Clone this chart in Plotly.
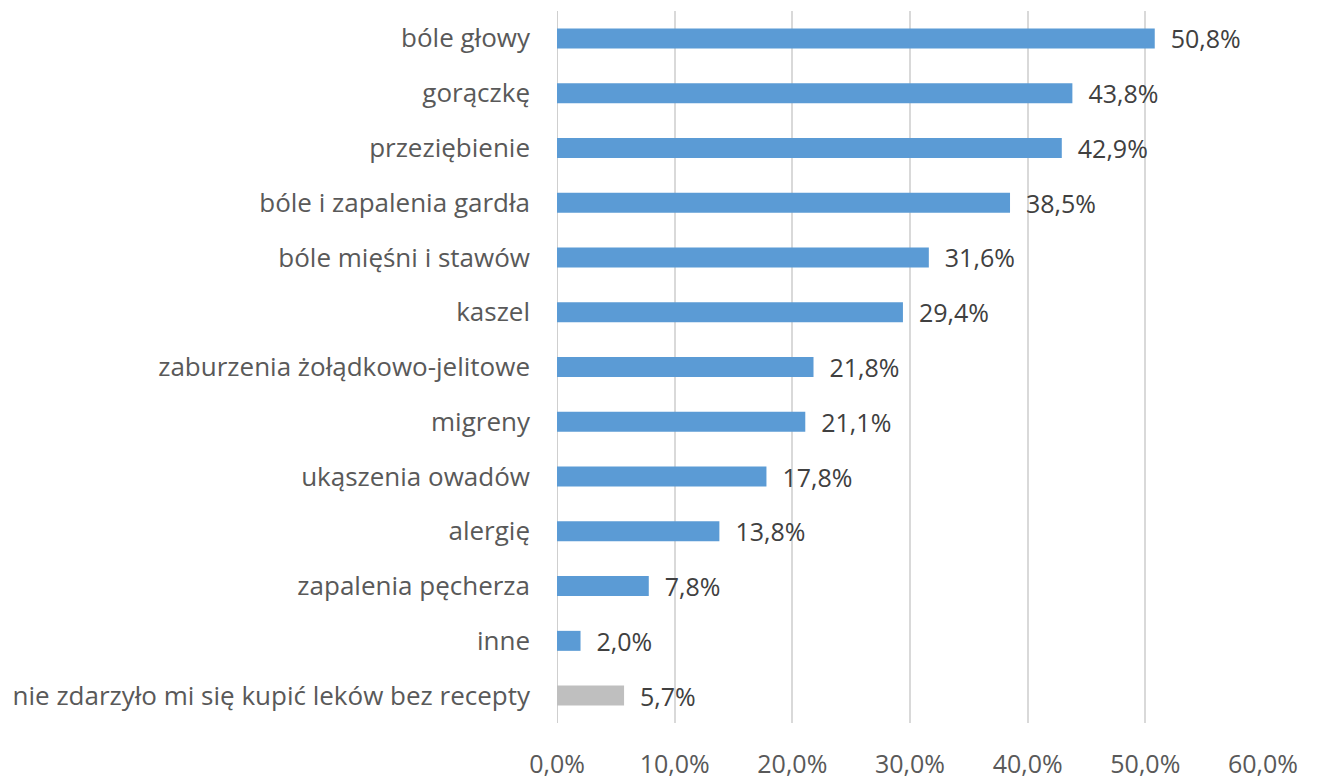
import plotly.graph_objects as go

categories = [
    "bóle głowy", "gorączkę", "przeziębienie", "bóle i zapalenia gardła",
    "bóle mięśni i stawów", "kaszel", "zaburzenia żołądkowo-jelitowe",
    "migreny", "ukąszenia owadów", "alergię", "zapalenia pęcherza", "inne",
    "nie zdarzyło mi się kupić leków bez recepty",
]
values = [50.8, 43.8, 42.9, 38.5, 31.6, 29.4, 21.8, 21.1, 17.8, 13.8, 7.8, 2.0, 5.7]
tick_values = [0, 10, 20, 30, 40, 50, 60]

BLUE = "#5B9BD5"
GRAY = "#BFBFBF"
bar_colors = [BLUE] * 12 + [GRAY]

fracs = [v / 100 for v in values]
FONT = "Open Sans"

fig = go.Figure()
fig.add_trace(go.Bar(
    y=categories, x=fracs, orientation="h",
    marker=dict(color=bar_colors, line=dict(width=0)),
    texttemplate="  %{x:.1%}",
    textposition="outside",
    constraintext="none",
    cliponaxis=False,
    textfont=dict(family=FONT, size=25, color="#404040"),
    hoverinfo="skip",
))

fig.update_layout(
    width=1317, height=778,
    margin=dict(l=549, r=62, t=3, b=63),
    paper_bgcolor="white", plot_bgcolor="white",
    separators=", ",
    bargap=0.635,
    showlegend=False,
    font=dict(family=FONT, size=25, color="#595959"),
)
fig.update_xaxes(
    range=[0, 0.6],
    tickvals=[t / 100 for t in tick_values],
    tickformat=".1%",
    showgrid=True, gridcolor="#D9D9D9", gridwidth=1.5,
    zeroline=False,
    ticks="", ticklabelstandoff=24,
    automargin=False,
    tickfont=dict(family=FONT, size=25, color="#595959"),
)
fig.update_yaxes(
    categoryorder="array", categoryarray=categories[::-1],
    autorange=True,
    showgrid=False, zeroline=False,
    showline=False,
    ticks="", ticklabelstandoff=26,
    automargin=False,
    tickfont=dict(family=FONT, size=26, color="#595959"),
)
fig.add_shape(type="line", xref="x", yref="paper", x0=0, x1=0, y0=0, y1=1,
              line=dict(color="#BFBFBF", width=1.5), layer="below")

fig.write_html("out.html")
